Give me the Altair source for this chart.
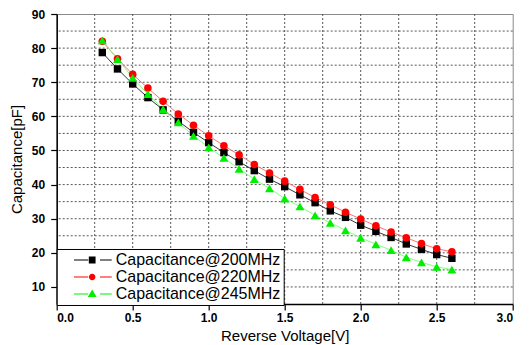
import altair as alt
import pandas as pd

voltage = [0.3, 0.4, 0.5, 0.6, 0.7, 0.8, 0.9, 1.0, 1.1, 1.2, 1.3, 1.4,
           1.5, 1.6, 1.7, 1.8, 1.9, 2.0, 2.1, 2.2, 2.3, 2.4, 2.5, 2.6]
c200 = [78.7, 73.9, 69.5, 65.5, 61.9, 58.6, 55.3, 52.3, 49.4, 46.7, 44.1, 41.6,
        39.4, 37.0, 34.7, 32.3, 30.4, 28.1, 26.3, 24.5, 22.6, 21.0, 19.5, 18.4]
c220 = [82.0, 76.9, 72.3, 68.3, 64.4, 60.7, 57.4, 54.3, 51.4, 48.7, 45.9, 43.4,
        41.0, 38.6, 36.2, 34.1, 31.9, 29.9, 27.9, 26.1, 24.4, 22.7, 21.2, 20.3]
c245 = [82.3, 76.8, 71.3, 66.5, 62.1, 58.2, 54.3, 50.9, 47.8, 44.6, 41.6, 38.9,
        35.9, 33.6, 31.0, 28.8, 26.6, 24.4, 22.5, 20.8, 18.7, 17.2, 15.9, 15.1]
series = ["Capacitance@200MHz", "Capacitance@220MHz", "Capacitance@245MHz"]
x_grid = [0.25, 0.5, 0.75, 1.0, 1.25, 1.5, 1.75, 2.0, 2.25, 2.5, 2.75]
y_grid = [10, 15, 20, 25, 30, 35, 40, 45, 50, 55, 60, 65, 70, 75, 80, 85]
x_ticks = [0.0, 0.5, 1.0, 1.5, 2.0, 2.5, 3.0]
y_ticks = [10, 20, 30, 40, 50, 60, 70, 80, 90]

rows = []
for name, vals in zip(series, [c200, c220, c245]):
    for v, c in zip(voltage, vals):
        rows.append({"V": v, "C": c, "series": name})
df = pd.DataFrame(rows)

marker_colors = ["#000000", "#ff0000", "#00ee00"]
line_colors = ["#333333", "#ff7070", "#80ff80"]
FONT = "Liberation Sans"

x_scale = alt.Scale(domain=[0, 3], nice=False)
y_scale = alt.Scale(domain=[5, 90], nice=False)
x_axis = alt.Axis(values=x_ticks, title="Reverse Voltage[V]", format=".1f", grid=False,
                  tickSize=6, labelPadding=3, titlePadding=5)
y_axis = alt.Axis(values=y_ticks, title="Capacitance[pF]", format="d", grid=False,
                  tickSize=6, labelPadding=6, titlePadding=7)
x_enc = alt.X("V:Q", scale=x_scale, axis=x_axis)
y_enc = alt.Y("C:Q", scale=y_scale, axis=y_axis)

grid_dash = [2, 2]
vgrid = alt.Chart(pd.DataFrame({"g": x_grid})).mark_rule(
    color="#555555", strokeWidth=1, strokeDash=grid_dash
).encode(x=alt.X("g:Q", scale=x_scale, axis=x_axis))
hgrid = alt.Chart(pd.DataFrame({"g": y_grid})).mark_rule(
    color="#555555", strokeWidth=1, strokeDash=grid_dash
).encode(y=alt.Y("g:Q", scale=y_scale, axis=y_axis))

base = alt.Chart(df)

line_layers = []
for name, col in zip(series, line_colors):
    line_layers.append(
        base.transform_filter(alt.datum.series == name)
        .mark_line(strokeWidth=1, color=col)
        .encode(x=x_enc, y=y_enc)
    )

shapes = ["square", "circle", "triangle-up"]
sizes = [55, 58, 80]
point_layers = []
for name, col, shp, sz in zip(series, marker_colors, shapes, sizes):
    point_layers.append(
        base.transform_filter(alt.datum.series == name)
        .mark_point(filled=True, shape=shp, size=sz, color=col, opacity=1, strokeWidth=0)
        .encode(x=x_enc, y=y_enc)
    )

leg_line = "M-0.45,-0.02H0.1V0.02H-0.45Z M0.55,-0.02H1V0.02H0.55Z "
leg_shapes = [
    leg_line + "M0.12,-0.13H0.38V0.13H0.12Z",
    leg_line + "M0.125,0A0.125,0.125,0,1,1,0.375,0A0.125,0.125,0,1,1,0.125,0Z",
    leg_line + "M0.08,0.12L0.25,-0.17L0.42,0.12Z",
]
legend = alt.Legend(
    title=None, orient="none", legendX=0, legendY=235,
    labelFont=FONT, labelFontSize=16, labelColor="#000000", labelLimit=400,
    symbolSize=2704, symbolStrokeWidth=0, symbolOpacity=1, clipHeight=16, rowPadding=1,
    labelOffset=4, padding=3, strokeColor="#000000", fillColor="#ffffff",
    cornerRadius=0,
)
legend_layer = base.transform_filter("false").mark_point(filled=True, opacity=1).encode(
    x=x_enc, y=y_enc,
    color=alt.Color("series:N", scale=alt.Scale(domain=series, range=marker_colors), legend=legend),
    shape=alt.Shape("series:N", scale=alt.Scale(domain=series, range=leg_shapes), legend=legend),
)

chart = alt.layer(vgrid, hgrid, *line_layers, *point_layers, legend_layer).properties(
    width=456, height=290,
    autosize=alt.AutoSizeParams(type="none"),
    padding={"left": 48.7, "top": 6, "right": 8, "bottom": 41},
    background="#ffffff",
).configure_view(
    stroke="#8a8a8a", strokeWidth=1
).configure_axis(
    labelFont=FONT, labelFontSize=12, labelFontWeight="bold", labelColor="#000000",
    titleFont=FONT, titleFontSize=15, titleFontWeight="normal", titleColor="#000000",
    domainColor="#000000", domainWidth=1.5, tickColor="#000000", tickWidth=1.2,
)

chart.save("out.html", embed_options={"renderer": "svg", "actions": False})
